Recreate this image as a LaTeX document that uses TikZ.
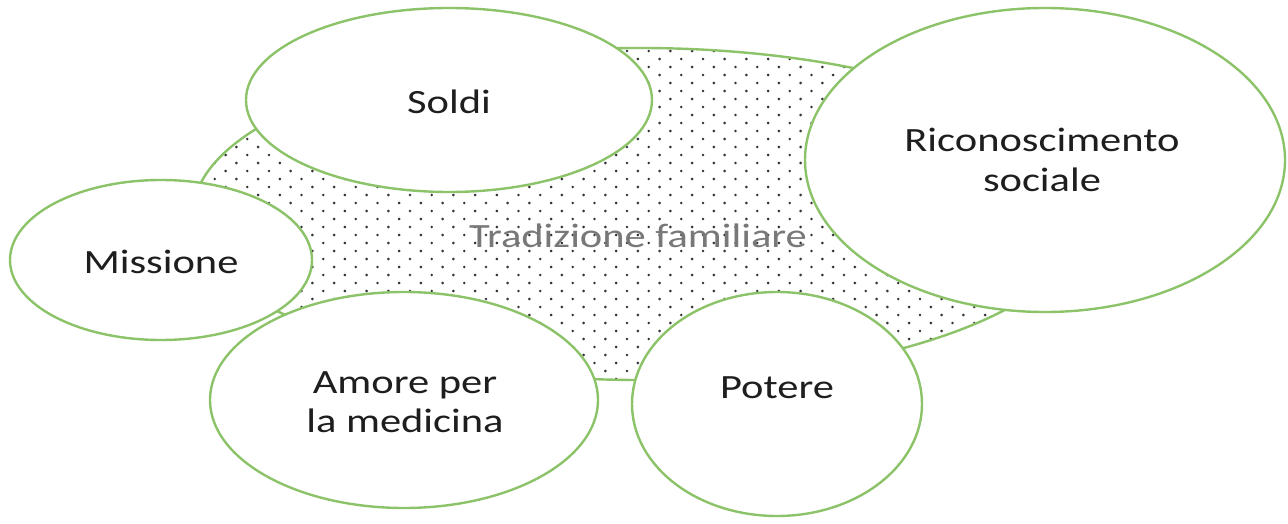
\documentclass[tikz,border=0pt]{standalone}
\usepackage{fontspec}
\setmainfont{Carlito}
\definecolor{lgreen}{RGB}{140,195,105}
\definecolor{txt}{RGB}{30,30,30}
\definecolor{gtxt}{RGB}{120,120,120}
\begin{document}
\begin{tikzpicture}[x=0.75pt,y=-0.75pt,
  bub/.style={draw=lgreen,line width=1.8pt,fill=white},
  lab/.style={font=\fontsize{25.5}{29.5}\selectfont,text=txt,align=center,xscale=1.25,transform shape,inner sep=0pt}]
\useasboundingbox (0,0) rectangle (1288,524);
% big dotted ellipse
\fill[white] (640,214) ellipse [x radius=447, y radius=166];
\begin{scope}
\clip (640,214) ellipse [x radius=447, y radius=166];
\foreach \j in {0,...,42}{
  \foreach \i in {0,...,42}{
    \fill[black!80] ({\i*21.7+mod(\j,2)*10.85+193},{\j*8+51}) circle [radius=1.45];
  }
}
\end{scope}
\draw[draw=lgreen,line width=1.8pt] (640,214) ellipse [x radius=447, y radius=166];
\node[lab,text=gtxt] (trad) at (638,236) {Tradizione familiare};
% bubbles
\draw[bub] (449,100) ellipse [x radius=203, y radius=92];
\draw[bub] (1045,160) ellipse [x radius=240, y radius=152];
\draw[bub] (161,260) ellipse [x radius=151, y radius=80];
\draw[bub] (404,400) ellipse [x radius=194, y radius=108];
\draw[bub] (777,404) ellipse [x radius=145, y radius=112];
\node[lab] (soldi) at (449,102) {Soldi};
\node[lab] (ricon) at (1042,160) {Riconoscimento\\sociale};
\node[lab] (miss) at (161,262) {Missione};
\node[lab] (amore) at (405,402) {Amore per\\la medicina};
\node[lab] (potere) at (777,388) {Potere};
\end{tikzpicture}
\end{document}
